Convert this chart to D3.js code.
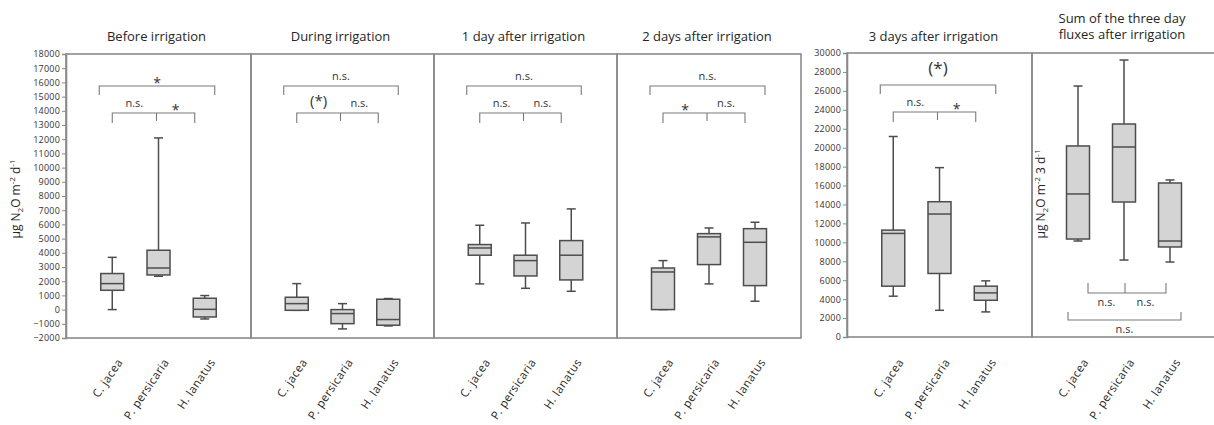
<!DOCTYPE html>
<html>
<head>
<meta charset="utf-8">
<script src="https://cdn.jsdelivr.net/npm/d3@7"></script>
<style>
body { margin: 0; background: #fff; }
text { font-family: "Open Sans", sans-serif; }
</style>
</head>
<body>
<script>
var species = ["C. jacea", "P. persicaria", "H. lanatus"];
var titles = [["Before irrigation"], ["During irrigation"], ["1 day after irrigation"],
    ["2 days after  irrigation"], ["3 days after irrigation"],
    ["Sum of the  three  day", "fluxes after irrigation"]];

// per species: [whisker low, q1, median, q3, whisker high]
var before = [[0, 1360, 1830, 2540, 3680], [2350, 2440, 2930, 4180, 12090], [-660, -520, 20, 800, 990]];
var during = [[-50, -50, 420, 870, 1830], [-1360, -990, -280, 0, 420], [-1150, -1100, -700, 730, 780]];
var day1 = [[1810, 3830, 4340, 4580, 5940], [1500, 2370, 3450, 3830, 6100], [1290, 2090, 3830, 4860, 7090]];
var day2 = [[0, 0, 2650, 2930, 3450], [1810, 3170, 5120, 5350, 5750], [590, 1690, 4740, 5700, 6150]];
var day3 = [[4310, 5370, 10940, 11290, 21180], [2820, 6710, 12990, 14290, 17890], [2650, 3880, 4660, 5370, 5930]];
var sum3 = [[10140, 10350, 15110, 20180, 26510], [8130, 14260, 20070, 22500, 29260], [7920, 9510, 10140, 16270, 16590]];

// significance: outer bracket (C vs H), inner left (C vs P), inner right (P vs H)
var sigOuter = ["*", "n.s.", "n.s.", "n.s.", "(*)", "n.s."];
var sigLeft = ["n.s.", "(*)", "n.s.", "*", "n.s.", "n.s."];
var sigRight = ["*", "n.s.", "n.s.", "n.s.", "*", "n.s."];

var leftDomain = [-2000, 18000], leftStep = 1000;
var rightDomain = [0, 30000], rightStep = 2000;

var panelData = [before, during, day1, day2, day3, sum3];

var W = 1214, H = 425;
var boxFill = "#d4d4d4", boxStroke = "#4d4d4d", frameColor = "#8a8a8a", bracketColor = "#7a7a7a";
var textColor = "#262626", tickColor = "#3b3030";

// layout of the panels (pixels)
var groups = [{ top: 54, bottom: 338 }, { top: 53, bottom: 337 }];
var panels = [
    { x0: 66, x1: 251, g: 0 }, { x0: 251, x1: 434, g: 0 }, { x0: 434, x1: 617, g: 0 },
    { x0: 617, x1: 801, g: 0 }, { x0: 847, x1: 1032, g: 1 }, { x0: 1032, x1: 1216, g: 1 }
];

var svg = d3.select("body").append("svg")
    .attr("width", W)
    .attr("height", H);

var yLeft = d3.scaleLinear().domain(leftDomain).range([groups[0].bottom, groups[0].top]);
var yRight = d3.scaleLinear().domain(rightDomain).range([groups[1].bottom, groups[1].top]);
var yScales = [yLeft, yRight];

var boxW = 23, capW = 9;

panels.forEach(function(p, i) {
    var grp = groups[p.g];
    var y = yScales[p.g];
    var x = d3.scalePoint().domain(species).range([p.x0, p.x1]).padding(1);
    var g = svg.append("g");

    // frame
    g.append("rect")
        .attr("x", p.x0).attr("y", grp.top)
        .attr("width", p.x1 - p.x0).attr("height", grp.bottom - grp.top)
        .attr("fill", "none").attr("stroke", frameColor).attr("stroke-width", 1.6);

    // title
    var tx = (p.x0 + p.x1) / 2 - (i == 4 ? 6 : 2);
    var t = g.append("text")
        .attr("text-anchor", "middle")
        .attr("font-size", 13)
        .attr("fill", textColor);
    titles[i].forEach(function(line, k) {
        t.append("tspan")
            .attr("x", tx)
            .attr("y", titles[i].length == 1 ? 41 : 23 + k * 16)
            .text(line);
    });

    // boxes
    var data = panelData[i];
    species.forEach(function(sp, j) {
        var d = data[j];
        var cx = x(sp);
        g.append("line")
            .attr("x1", cx).attr("x2", cx)
            .attr("y1", y(d[0])).attr("y2", y(d[4]))
            .attr("stroke", boxStroke).attr("stroke-width", 1.5);
        [d[0], d[4]].forEach(function(v) {
            g.append("line")
                .attr("x1", cx - capW / 2).attr("x2", cx + capW / 2)
                .attr("y1", y(v)).attr("y2", y(v))
                .attr("stroke", boxStroke).attr("stroke-width", 1.5);
        });
        g.append("rect")
            .attr("x", cx - boxW / 2).attr("y", y(d[3]))
            .attr("width", boxW).attr("height", Math.max(1, y(d[1]) - y(d[3])))
            .attr("fill", boxFill).attr("stroke", boxStroke).attr("stroke-width", 1.5);
        g.append("line")
            .attr("x1", cx - boxW / 2).attr("x2", cx + boxW / 2)
            .attr("y1", y(d[2])).attr("y2", y(d[2]))
            .attr("stroke", boxStroke).attr("stroke-width", 1.5);

        // category label
        var lx = cx + 11, ly = 362;
        g.append("text")
            .attr("transform", "translate(" + lx + "," + ly + ") rotate(-56)")
            .attr("text-anchor", "end")
            .attr("font-size", 11.5)
            .attr("letter-spacing", 0.4)
            .attr("fill", textColor)
            .text(sp);
    });

    // significance brackets
    var xc = x(species[0]), xp = x(species[1]), xh = x(species[2]);
    var br = g.append("g").attr("fill", "none").attr("stroke", bracketColor).attr("stroke-width", 1.1);
    var labelAt = function(txt, lx, by, below) {
        var fs = txt == "(*)" ? (i == 4 ? 17 : 15) : (txt == "*" ? 14 : 11);
        var off;
        if (below) off = 13;
        else if (txt == "*") off = 2;
        else if (txt == "(*)") off = (i == 4 ? -8 : -4) - 3;
        else off = -6;
        g.append("text")
            .attr("x", lx).attr("y", by + off)
            .attr("text-anchor", "middle")
            .attr("font-size", fs)
            .attr("fill", "#333")
            .text(txt);
    };
    if (i < 5) {
        var oy = grp.top + 32, iy = grp.top + 59;
        var ox0 = xc - 13, ox1 = xh + 10, ix0 = xc, ix1 = xh - 10, im = xp - 2;
        br.append("path").attr("d", "M" + ox0 + "," + (oy + 9) + "V" + oy + "H" + ox1 + "V" + (oy + 9));
        br.append("path").attr("d", "M" + ix0 + "," + (iy + 10) + "V" + iy + "H" + ix1 + "V" + (iy + 10));
        br.append("path").attr("d", "M" + im + "," + iy + "V" + (iy + 8));
        labelAt(sigOuter[i], (ox0 + ox1) / 2, oy, false);
        labelAt(sigLeft[i], (ix0 + im) / 2, iy, false);
        labelAt(sigRight[i], (im + ix1) / 2, iy, false);
    } else {
        var oy2 = grp.bottom - 17, iy2 = grp.bottom - 44;
        var a0 = xc - 10, a1 = xh + 11, b0 = xc + 10, b1 = xh - 4, bm = xp + 1;
        br.append("path").attr("d", "M" + a0 + "," + (oy2 - 8) + "V" + oy2 + "H" + a1 + "V" + (oy2 - 8));
        br.append("path").attr("d", "M" + b0 + "," + (iy2 - 10) + "V" + iy2 + "H" + b1 + "V" + (iy2 - 10));
        br.append("path").attr("d", "M" + bm + "," + (iy2 - 10) + "V" + iy2);
        labelAt(sigOuter[i], (a0 + a1) / 2, oy2, true);
        labelAt(sigLeft[i], (b0 + bm) / 2, iy2, true);
        labelAt(sigRight[i], (bm + b1) / 2, iy2, true);
    }
});

// y axes
function drawAxis(scale, xPos, domain, step) {
    var ax = svg.append("g")
        .attr("transform", "translate(" + xPos + ",0)")
        .call(d3.axisLeft(scale).tickValues(d3.range(domain[0], domain[1] + 1, step))
            .tickSize(4).tickPadding(2).tickFormat(d3.format("d")));
    ax.select(".domain").attr("stroke", frameColor).attr("stroke-width", 1.6);
    ax.selectAll(".tick line").attr("stroke", frameColor);
    ax.selectAll(".tick text")
        .attr("font-family", "Open Sans, sans-serif")
        .attr("font-size", 9)
        .attr("letter-spacing", 0.2)
        .attr("fill", tickColor);
}
drawAxis(yLeft, panels[0].x0, leftDomain, leftStep);
drawAxis(yRight, panels[4].x0, rightDomain, rightStep);

// y axis titles
function yTitle(xPos, yPos, dLabel) {
    var t = svg.append("text")
        .attr("transform", "translate(" + xPos + "," + yPos + ") rotate(-90)")
        .attr("text-anchor", "middle")
        .attr("font-size", 12)
        .attr("fill", textColor);
    t.append("tspan").text("\u00b5g N");
    t.append("tspan").attr("font-size", 8).attr("dy", 3).text("2");
    t.append("tspan").attr("dy", -3).text("O m");
    t.append("tspan").attr("font-size", 8).attr("dy", -5).text("-2");
    t.append("tspan").attr("dy", 5).text(dLabel);
    t.append("tspan").attr("font-size", 8).attr("dy", -5).text("-1");
}
yTitle(20, 199, " d");
yTitle(1045, 194, " 3 d");
</script>
</body>
</html>
